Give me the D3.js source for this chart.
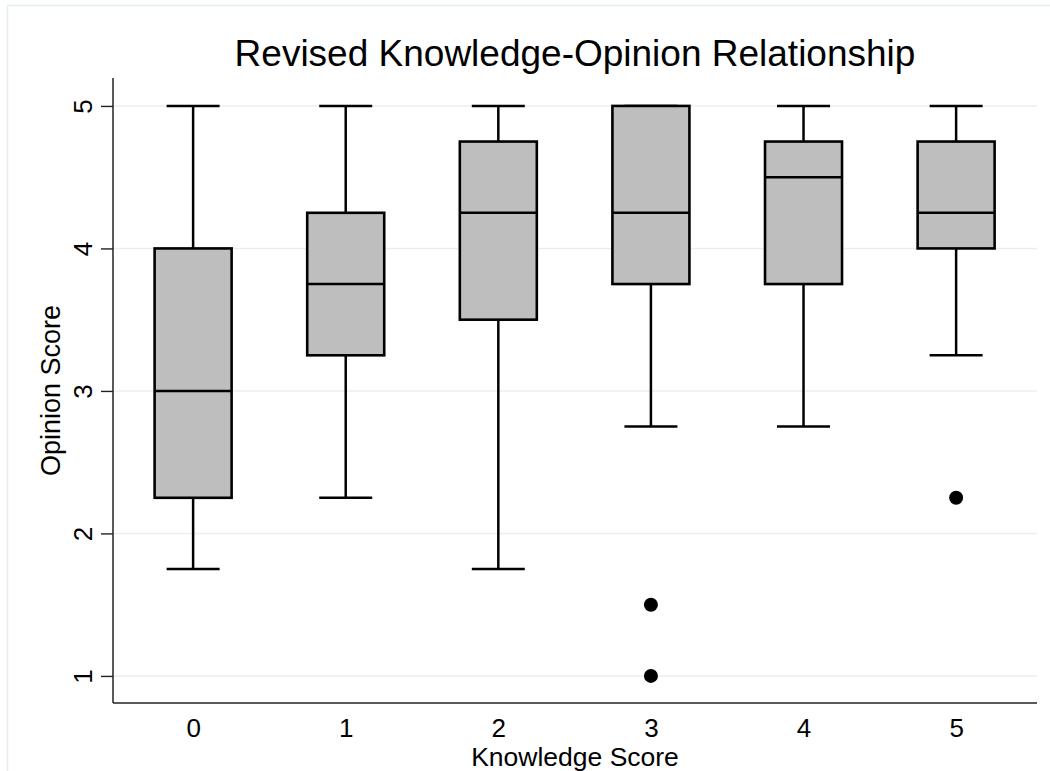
<!DOCTYPE html>
<html>
<head>
<meta charset="utf-8">
<script src="https://cdn.jsdelivr.net/npm/d3@7"></script>
<style>
  html, body { margin: 0; padding: 0; background: #fff; }
  svg { display: block; font-family: "Liberation Sans", Arial, Helvetica, sans-serif; }
</style>
</head>
<body>
<svg id="chart" width="1050" height="771"></svg>
<script>
// Knowledge score groups and their box-plot summaries (opinion score)
const categories = [0, 1, 2, 3, 4, 5];
const whiskerLow  = [1.75, 2.25, 1.75, 2.75, 2.75, 3.25];
const q1          = [2.25, 3.25, 3.5, 3.75, 3.75, 4.0];
const medians     = [3.0, 3.75, 4.25, 4.25, 4.5, 4.25];
const q3          = [4.0, 4.25, 4.75, 5.0, 4.75, 4.75];
const whiskerHigh = [5, 5, 5, 5, 5, 5];
// Outside values: [group, score]
const outliers = [[3, 1.5], [3, 1.0], [5, 2.25]];
const yTicks = [1, 2, 3, 4, 5];

const title = "Revised Knowledge-Opinion Relationship";
const xTitle = "Knowledge Score";
const yTitle = "Opinion Score";

const svg = d3.select("#chart");
const W = 1050, H = 771;
const plot = { left: 113, right: 1037, top: 78, bottom: 703 };

const x = d3.scaleLinear().domain([-0.525, 5.53]).range([plot.left, plot.right]);
const y = d3.scaleLinear().domain([0.81, 5.196]).range([plot.bottom, plot.top]);

const boxW = 77, capW = 53;
const ink = "#000";

// Outer frame
svg.append("rect")
  .attr("x", 7.5).attr("y", 5.5)
  .attr("width", W + 20).attr("height", H + 20)
  .attr("fill", "none").attr("stroke", "#e4eef0").attr("stroke-width", 1.5);

// Horizontal gridlines
svg.append("g").selectAll("line").data(yTicks).join("line")
  .attr("x1", plot.left).attr("x2", plot.right)
  .attr("y1", d => y(d)).attr("y2", d => y(d))
  .attr("stroke", "#e6f0f2").attr("stroke-width", 1.6);

// Y axis
const yAxis = svg.append("g")
  .attr("transform", `translate(${plot.left},0)`)
  .call(d3.axisLeft(y).tickValues(yTicks).tickSize(12).tickPadding(9).tickFormat(d3.format("d")));
yAxis.select(".domain").remove();
yAxis.selectAll(".tick line").attr("stroke", "#222").attr("stroke-width", 1.4);
yAxis.selectAll(".tick text")
  .attr("font-size", 26).attr("fill", ink)
  .attr("transform", "rotate(-90)")
  .attr("x", 0).attr("y", -21)
  .attr("dy", 0)
  .attr("text-anchor", "middle");
svg.append("line")
  .attr("x1", plot.left).attr("x2", plot.left)
  .attr("y1", plot.top).attr("y2", plot.bottom)
  .attr("stroke", "#222").attr("stroke-width", 1.5);

// X axis
const xAxis = svg.append("g")
  .attr("transform", `translate(0,${plot.bottom})`)
  .call(d3.axisBottom(x).tickValues(categories).tickSize(0).tickPadding(10).tickFormat(d3.format("d")));
xAxis.select(".domain").remove();
xAxis.selectAll(".tick text").attr("font-size", 26).attr("fill", ink).attr("dy", 0).attr("y", 34);
svg.append("line")
  .attr("x1", plot.left).attr("x2", plot.right)
  .attr("y1", plot.bottom).attr("y2", plot.bottom)
  .attr("stroke", "#222").attr("stroke-width", 1.5);

// Box plots
const groups = categories.map((c, i) => ({
  c, lo: whiskerLow[i], q1: q1[i], med: medians[i], q3: q3[i], hi: whiskerHigh[i]
}));
const g = svg.append("g").selectAll("g").data(groups).join("g");

// Whisker stems
g.append("line")
  .attr("x1", d => x(d.c)).attr("x2", d => x(d.c))
  .attr("y1", d => y(d.hi)).attr("y2", d => y(d.q3))
  .attr("stroke", ink).attr("stroke-width", 2.5);
g.append("line")
  .attr("x1", d => x(d.c)).attr("x2", d => x(d.c))
  .attr("y1", d => y(d.q1)).attr("y2", d => y(d.lo))
  .attr("stroke", ink).attr("stroke-width", 2.5);
// Whisker caps
g.append("line")
  .attr("x1", d => x(d.c) - capW / 2).attr("x2", d => x(d.c) + capW / 2)
  .attr("y1", d => y(d.hi)).attr("y2", d => y(d.hi))
  .attr("stroke", ink).attr("stroke-width", 2.5);
g.append("line")
  .attr("x1", d => x(d.c) - capW / 2).attr("x2", d => x(d.c) + capW / 2)
  .attr("y1", d => y(d.lo)).attr("y2", d => y(d.lo))
  .attr("stroke", ink).attr("stroke-width", 2.5);
// Boxes
g.append("rect")
  .attr("x", d => x(d.c) - boxW / 2).attr("width", boxW)
  .attr("y", d => y(d.q3)).attr("height", d => y(d.q1) - y(d.q3))
  .attr("fill", "#bebebe").attr("stroke", ink).attr("stroke-width", 2.6);
// Medians
g.append("line")
  .attr("x1", d => x(d.c) - boxW / 2).attr("x2", d => x(d.c) + boxW / 2)
  .attr("y1", d => y(d.med)).attr("y2", d => y(d.med))
  .attr("stroke", ink).attr("stroke-width", 2.5);

// Outside values
svg.append("g").selectAll("circle").data(outliers).join("circle")
  .attr("cx", d => x(d[0])).attr("cy", d => y(d[1])).attr("r", 7)
  .attr("fill", ink);

// Titles
svg.append("text")
  .attr("x", (plot.left + plot.right) / 2).attr("y", 66)
  .attr("text-anchor", "middle").attr("font-size", 37).attr("fill", ink)
  .text(title);
svg.append("text")
  .attr("x", (plot.left + plot.right) / 2).attr("y", 766)
  .attr("text-anchor", "middle").attr("font-size", 26.5).attr("fill", ink)
  .text(xTitle);
svg.append("text")
  .attr("transform", `translate(60,${(plot.top + plot.bottom) / 2}) rotate(-90)`)
  .attr("text-anchor", "middle").attr("font-size", 27).attr("fill", ink)
  .text(yTitle);
</script>
</body>
</html>
